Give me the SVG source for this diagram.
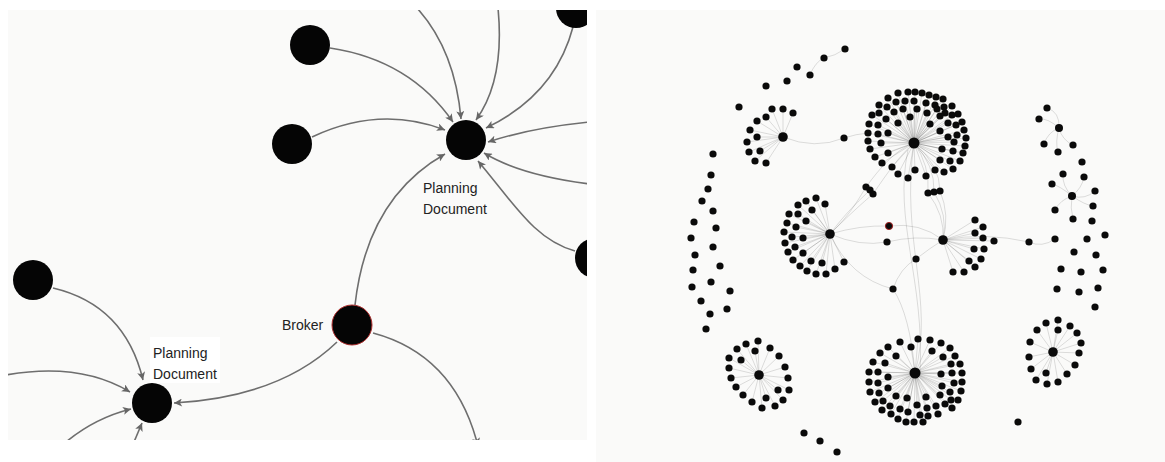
<svg xmlns="http://www.w3.org/2000/svg" width="1165" height="462" viewBox="0 0 1165 462">
<style>
.bg{fill:#fafaf9}
.n{fill:#050505}
.lbl{font-family:"Liberation Sans",Arial,sans-serif;font-size:14px;fill:#222}
.e{fill:none;stroke:#6e6e6e;stroke-width:1.6}
.d circle{r:3.6px}
.d{fill:#0a0a0a}
.h{fill:#0a0a0a}
.fe{fill:none;stroke:#000;stroke-opacity:0.16;stroke-width:0.8}
</style>
<defs>
<marker id="ah" viewBox="0 0 10 10" refX="10" refY="5" markerWidth="9" markerHeight="8" markerUnits="userSpaceOnUse" orient="auto">
<path d="M0,0 L10,5 L0,10 L2.5,5 z" fill="#666"/>
</marker>
<clipPath id="cl"><rect x="8" y="10" width="579" height="430"/></clipPath>
<clipPath id="cr"><rect x="596" y="10" width="569" height="452"/></clipPath>
</defs>
<rect width="1165" height="462" fill="#fff"/>
<rect class="bg" x="8" y="10" width="579" height="430"/>
<rect class="bg" x="596" y="10" width="569" height="452"/>

<g id="left-panel" clip-path="url(#cl)">
<g id="connectors">
<path class="e" marker-end="url(#ah)" d="M330,48 Q410,60 453,122"/>
<path class="e" marker-end="url(#ah)" d="M312,137 Q380,105 445,130"/>
<path class="e" marker-end="url(#ah)" d="M417,8 Q455,50 461,119"/>
<path class="e" marker-end="url(#ah)" d="M498,8 Q505,80 476,120"/>
<path class="e" marker-end="url(#ah)" d="M573,27 Q555,95 486,128"/>
<path class="e" marker-end="url(#ah)" d="M590,122 Q530,128 488,142"/>
<path class="e" marker-end="url(#ah)" d="M590,184 Q520,175 484,153"/>
<path class="e" marker-end="url(#ah)" d="M575,251 C535,240 515,205 478,161"/>
<path class="e" marker-end="url(#ah)" d="M355,305 Q367,198 445,154"/>
<path class="e" marker-end="url(#ah)" d="M53,288 Q125,305 143,380"/>
<path class="e" marker-end="url(#ah)" d="M6,375 Q80,362 130,392"/>
<path class="e" marker-end="url(#ah)" d="M66,442 Q95,418 131,409"/>
<path class="e" marker-end="url(#ah)" d="M134,442 L142,423"/>
<path class="e" marker-end="url(#ah)" d="M337,342 Q280,397 174,403"/>
<path class="e" marker-end="url(#ah)" d="M373,333 Q455,355 478,446"/>
</g>
<g id="node-a"><circle class="n" cx="310" cy="45" r="20"/></g>
<g id="node-b"><circle class="n" cx="292" cy="144" r="20"/></g>
<g id="node-top-right"><circle class="n" cx="576" cy="8" r="20"/></g>
<g id="node-right"><circle class="n" cx="595" cy="258" r="20"/></g>
<g id="node-planning-document-1">
<circle class="n" cx="466" cy="140" r="20"/>
<text class="lbl" x="423" y="193">Planning</text>
<text class="lbl" x="423" y="214">Document</text>
</g>
<g id="node-broker">
<circle class="n" cx="352" cy="325" r="20" stroke="#b03030" stroke-width="1"/>
<text class="lbl" x="282" y="330">Broker</text>
</g>
<g id="node-left"><circle class="n" cx="33" cy="280" r="20"/></g>
<g id="node-planning-document-2">
<rect x="150" y="337" width="70" height="46" fill="#fff"/>
<circle class="n" cx="152" cy="403" r="20"/>
<text class="lbl" x="153" y="358">Planning</text>
<text class="lbl" x="153" y="379">Document</text>
</g>
</g>

<g id="right-panel" clip-path="url(#cr)">
<g id="overview-connectors">
<path class="fe" d="M810,75 Q815,62 824,58 Q835,56 845,49"/>
<path class="fe" d="M783,137 Q815,150 844,138 Q856,134 868,133"/>
<path class="fe" d="M830,234 C850,215 858,200 866,187 M830,234 C848,210 862,198 870,190 M830,234 C852,212 866,200 873,194 M866,187 C880,168 895,150 914,143 M873,194 C888,172 900,155 914,143"/>
<path class="fe" d="M914,143 Q930,165 928,193 M914,143 Q935,165 934,192 M914,143 Q940,165 940,191 M928,193 Q945,215 943,240 M934,192 Q948,215 943,240 M940,191 Q950,215 943,240"/>
<path class="fe" d="M830,234 Q860,247 887,242 Q915,235 943,240 M830,234 Q860,225 889,226 Q920,222 943,240"/>
<path class="fe" d="M830,234 Q850,278 893,289 M893,289 Q900,268 916,259 Q930,248 943,240 M893,289 Q910,315 915,373"/>
<path class="fe" d="M908,150 C893,220 925,280 920,373 M914,143 C900,240 935,300 915,373"/>
<path class="fe" d="M943,240 Q985,232 1029,242 Q1042,248 1055,239"/>
<path class="fe" d="M914,143 L898,93 M914,143 L908,92 M914,143 L915,92 M914,143 L922,93 M914,143 L929,95 M914,143 L936,97 M914,143 L943,99 M914,143 L888,98 M914,143 L896,102 M914,143 L905,101 M914,143 L914,101 M914,143 L926,103 M914,143 L935,105 M914,143 L944,107 M914,143 L952,106 M914,143 L879,105 M914,143 L887,107 M914,143 L903,109 M914,143 L917,109 M914,143 L927,113 M914,143 L937,109 M914,143 L945,113 M914,143 L952,115 M914,143 L958,114 M914,143 L872,115 M914,143 L879,113 M914,143 L894,112 M914,143 L910,117 M914,143 L930,124 M914,143 L940,116 M914,143 L948,123 M914,143 L956,125 M914,143 L962,122 M914,143 L869,124 M914,143 L878,125 M914,143 L886,119 M914,143 L898,123 M914,143 L940,131 M914,143 L964,130 M914,143 L868,133 M914,143 L878,134 M914,143 L888,133 M914,143 L948,137 M914,143 L957,135 M914,143 L966,138 M914,143 L868,141 M914,143 L881,143 M914,143 L954,142 M914,143 L965,146 M914,143 L870,149 M914,143 L888,153 M914,143 L942,149 M914,143 L953,151 M914,143 L963,153 M914,143 L875,157 M914,143 L882,163 M914,143 L940,160 M914,143 L950,161 M914,143 L960,161 M914,143 L892,167 M914,143 L915,170 M914,143 L935,170 M914,143 L944,172 M914,143 L953,169 M914,143 L898,174 M914,143 L908,178 M914,143 L926,176"/>
<path class="fe" d="M783,137 L772,109 M783,137 L783,109 M783,137 L793,113 M783,137 L766,117 M783,137 L757,121 M783,137 L750,130 M783,137 L757,137 M783,137 L747,142 M783,137 L760,151 M783,137 L749,152 M783,137 L755,161 M783,137 L766,163"/>
<path class="fe" d="M830,234 L816,198 M830,234 L806,201 M830,234 L825,204 M830,234 L798,205 M830,234 L812,210 M830,234 L789,214 M830,234 L798,214 M830,234 L806,221 M830,234 L787,223 M830,234 L796,227 M830,234 L784,232 M830,234 L792,237 M830,234 L803,238 M830,234 L785,243 M830,234 L795,247 M830,234 L788,252 M830,234 L803,253 M830,234 L793,260 M830,234 L811,261 M830,234 L822,263 M830,234 L800,266 M830,234 L844,262 M830,234 L835,269 M830,234 L807,271 M830,234 L816,274 M830,234 L826,274"/>
<path class="fe" d="M943,240 L975,220 M943,240 L983,227 M943,240 L975,233 M943,240 L983,238 M943,240 L994,241 M943,240 L974,249 M943,240 L984,249 M943,240 L981,259 M943,240 L969,261 M943,240 L975,267 M943,240 L953,272 M943,240 L964,272"/>
<path class="fe" d="M915,373 L900,342 M915,373 L918,339 M915,373 L930,340 M915,373 L941,343 M915,373 L950,348 M915,373 L888,347 M915,373 L911,347 M915,373 L932,351 M915,373 L880,353 M915,373 L896,356 M915,373 L943,357 M915,373 L955,356 M915,373 L873,362 M915,373 L885,363 M915,373 L951,364 M915,373 L960,364 M915,373 L869,372 M915,373 L878,372 M915,373 L941,374 M915,373 L952,373 M915,373 L962,373 M915,373 L869,382 M915,373 L878,383 M915,373 L888,377 M915,373 L942,386 M915,373 L954,383 M915,373 L962,382 M915,373 L870,392 M915,373 L879,393 M915,373 L888,388 M915,373 L950,392 M915,373 L961,391 M915,373 L896,396 M915,373 L907,398 M915,373 L926,397 M915,373 L940,395 M915,373 L951,400 M915,373 L875,402 M915,373 L883,401 M915,373 L890,406 M915,373 L917,405 M915,373 L927,408 M915,373 L936,406 M915,373 L945,404 M915,373 L882,410 M915,373 L891,414 M915,373 L900,409 M915,373 L908,412 M915,373 L920,415 M915,373 L928,416 M915,373 L938,414 M915,373 L952,408 M915,373 L898,419 M915,373 L906,422 M915,373 L914,422 M915,373 L923,422 M915,373 L958,400"/>
<path class="fe" d="M759,375 L758,341 M759,375 L746,344 M759,375 L770,348 M759,375 L737,349 M759,375 L755,351 M759,375 L779,356 M759,375 L729,358 M759,375 L741,360 M759,375 L785,367 M759,375 L729,368 M759,375 L788,378 M759,375 L731,378 M759,375 L736,387 M759,375 L778,390 M759,375 L789,390 M759,375 L743,395 M759,375 L766,398 M759,375 L783,400 M759,375 L752,402 M759,375 L775,406 M759,375 L762,408"/>
<path class="fe" d="M1053,352 L1058,320 M1053,352 L1046,323 M1053,352 L1070,326 M1053,352 L1037,330 M1053,352 L1058,330 M1053,352 L1077,333 M1053,352 L1030,342 M1053,352 L1081,343 M1053,352 L1029,357 M1053,352 L1079,353 M1053,352 L1075,365 M1053,352 L1031,369 M1053,352 L1046,373 M1053,352 L1067,374 M1053,352 L1036,380 M1053,352 L1058,382 M1053,352 L1047,384"/>
<path class="fe" d="M1059,128 Q1060,112 1047,108 M1059,128 Q1048,118 1039,119 M1059,128 Q1048,132 1044,144 M1059,128 Q1055,142 1058,152 M1059,128 Q1062,140 1073,145"/>
<path class="fe" d="M1072,196 Q1062,186 1063,174 M1072,196 Q1082,188 1084,177 M1072,196 Q1060,186 1052,184 M1072,196 Q1085,200 1095,191 M1072,196 Q1085,205 1093,206 M1072,196 Q1060,200 1055,210 M1072,196 Q1070,208 1073,219"/>
</g>

<g id="cluster-top">
<circle class="h" cx="914" cy="143" r="5.5"/>
<g class="d">
<circle cx="898" cy="93" r="3.3"/><circle cx="908" cy="92" r="3.3"/><circle cx="915" cy="92" r="3.3"/><circle cx="922" cy="93" r="3.3"/><circle cx="929" cy="95" r="3.3"/><circle cx="936" cy="97" r="3.3"/><circle cx="943" cy="99" r="3.3"/>
<circle cx="888" cy="98" r="3.3"/><circle cx="896" cy="102" r="3.3"/><circle cx="905" cy="101" r="3.3"/><circle cx="914" cy="101" r="3.3"/><circle cx="926" cy="103" r="3.3"/><circle cx="935" cy="105" r="3.3"/><circle cx="944" cy="107" r="3.3"/><circle cx="952" cy="106" r="3.3"/>
<circle cx="879" cy="105" r="3.3"/><circle cx="887" cy="107" r="3.3"/><circle cx="903" cy="109" r="3.3"/><circle cx="917" cy="109" r="3.3"/><circle cx="927" cy="113" r="3.3"/><circle cx="937" cy="109" r="3.3"/><circle cx="945" cy="113" r="3.3"/><circle cx="952" cy="115" r="3.3"/><circle cx="958" cy="114" r="3.3"/>
<circle cx="872" cy="115" r="3.3"/><circle cx="879" cy="113" r="3.3"/><circle cx="894" cy="112" r="3.3"/><circle cx="910" cy="117" r="3.3"/><circle cx="930" cy="124" r="3.3"/><circle cx="940" cy="116" r="3.3"/><circle cx="948" cy="123" r="3.3"/><circle cx="956" cy="125" r="3.3"/><circle cx="962" cy="122" r="3.3"/>
<circle cx="869" cy="124" r="3.3"/><circle cx="878" cy="125" r="3.3"/><circle cx="886" cy="119" r="3.3"/><circle cx="898" cy="123" r="3.3"/><circle cx="940" cy="131" r="3.3"/><circle cx="964" cy="130" r="3.3"/>
<circle cx="868" cy="133" r="3.3"/><circle cx="878" cy="134" r="3.3"/><circle cx="888" cy="133" r="3.3"/><circle cx="948" cy="137" r="3.3"/><circle cx="957" cy="135" r="3.3"/><circle cx="966" cy="138" r="3.3"/>
<circle cx="868" cy="141" r="3.3"/><circle cx="881" cy="143" r="3.3"/><circle cx="954" cy="142" r="3.3"/><circle cx="965" cy="146" r="3.3"/>
<circle cx="870" cy="149" r="3.3"/><circle cx="888" cy="153" r="3.3"/><circle cx="942" cy="149" r="3.3"/><circle cx="953" cy="151" r="3.3"/><circle cx="963" cy="153" r="3.3"/>
<circle cx="875" cy="157" r="3.3"/><circle cx="882" cy="163" r="3.3"/><circle cx="940" cy="160" r="3.3"/><circle cx="950" cy="161" r="3.3"/><circle cx="960" cy="161" r="3.3"/>
<circle cx="892" cy="167" r="3.3"/><circle cx="915" cy="170" r="3.3"/><circle cx="935" cy="170" r="3.3"/><circle cx="944" cy="172" r="3.3"/><circle cx="953" cy="169" r="3.3"/>
<circle cx="898" cy="174" r="3.3"/><circle cx="908" cy="178" r="3.3"/><circle cx="926" cy="176" r="3.3"/>
</g>
</g>

<g id="cluster-top-left">
<circle class="h" cx="783" cy="137" r="4.8"/>
<g class="d">
<circle cx="772" cy="109" r="3.3"/><circle cx="783" cy="109" r="3.3"/><circle cx="793" cy="113" r="3.3"/><circle cx="766" cy="117" r="3.3"/><circle cx="757" cy="121" r="3.3"/><circle cx="750" cy="130" r="3.3"/><circle cx="757" cy="137" r="3.3"/><circle cx="747" cy="142" r="3.3"/><circle cx="760" cy="151" r="3.3"/><circle cx="749" cy="152" r="3.3"/><circle cx="755" cy="161" r="3.3"/><circle cx="766" cy="163" r="3.3"/>
<circle cx="844" cy="138" r="3.3"/>
</g>
</g>

<g id="cluster-left">
<circle class="h" cx="830" cy="234" r="4.8"/>
<g class="d">
<circle cx="816" cy="198" r="3.3"/><circle cx="806" cy="201" r="3.3"/><circle cx="825" cy="204" r="3.3"/><circle cx="798" cy="205" r="3.3"/><circle cx="812" cy="210" r="3.3"/><circle cx="789" cy="214" r="3.3"/><circle cx="798" cy="214" r="3.3"/><circle cx="806" cy="221" r="3.3"/><circle cx="787" cy="223" r="3.3"/><circle cx="796" cy="227" r="3.3"/><circle cx="784" cy="232" r="3.3"/><circle cx="792" cy="237" r="3.3"/><circle cx="803" cy="238" r="3.3"/><circle cx="785" cy="243" r="3.3"/><circle cx="795" cy="247" r="3.3"/><circle cx="788" cy="252" r="3.3"/><circle cx="803" cy="253" r="3.3"/><circle cx="793" cy="260" r="3.3"/><circle cx="811" cy="261" r="3.3"/><circle cx="822" cy="263" r="3.3"/><circle cx="800" cy="266" r="3.3"/><circle cx="844" cy="262" r="3.3"/><circle cx="835" cy="269" r="3.3"/><circle cx="807" cy="271" r="3.3"/><circle cx="816" cy="274" r="3.3"/><circle cx="826" cy="274" r="3.3"/>
</g>
</g>

<g id="cluster-mid-right">
<circle class="h" cx="943" cy="240" r="4.8"/>
<g class="d">
<circle cx="975" cy="220" r="3.3"/><circle cx="983" cy="227" r="3.3"/><circle cx="975" cy="233" r="3.3"/><circle cx="983" cy="238" r="3.3"/><circle cx="994" cy="241" r="3.3"/><circle cx="974" cy="249" r="3.3"/><circle cx="984" cy="249" r="3.3"/><circle cx="981" cy="259" r="3.3"/><circle cx="969" cy="261" r="3.3"/><circle cx="975" cy="267" r="3.3"/><circle cx="953" cy="272" r="3.3"/><circle cx="964" cy="272" r="3.3"/>
</g>
</g>

<g id="cluster-bottom">
<circle class="h" cx="915" cy="373" r="5.5"/>
<g class="d">
<circle cx="900" cy="342" r="3.3"/><circle cx="918" cy="339" r="3.3"/><circle cx="930" cy="340" r="3.3"/><circle cx="941" cy="343" r="3.3"/><circle cx="950" cy="348" r="3.3"/><circle cx="888" cy="347" r="3.3"/><circle cx="911" cy="347" r="3.3"/><circle cx="932" cy="351" r="3.3"/><circle cx="880" cy="353" r="3.3"/><circle cx="896" cy="356" r="3.3"/><circle cx="943" cy="357" r="3.3"/><circle cx="955" cy="356" r="3.3"/><circle cx="873" cy="362" r="3.3"/><circle cx="885" cy="363" r="3.3"/><circle cx="951" cy="364" r="3.3"/><circle cx="960" cy="364" r="3.3"/><circle cx="869" cy="372" r="3.3"/><circle cx="878" cy="372" r="3.3"/><circle cx="941" cy="374" r="3.3"/><circle cx="952" cy="373" r="3.3"/><circle cx="962" cy="373" r="3.3"/><circle cx="869" cy="382" r="3.3"/><circle cx="878" cy="383" r="3.3"/><circle cx="888" cy="377" r="3.3"/><circle cx="942" cy="386" r="3.3"/><circle cx="954" cy="383" r="3.3"/><circle cx="962" cy="382" r="3.3"/><circle cx="870" cy="392" r="3.3"/><circle cx="879" cy="393" r="3.3"/><circle cx="888" cy="388" r="3.3"/><circle cx="950" cy="392" r="3.3"/><circle cx="961" cy="391" r="3.3"/><circle cx="896" cy="396" r="3.3"/><circle cx="907" cy="398" r="3.3"/><circle cx="926" cy="397" r="3.3"/><circle cx="940" cy="395" r="3.3"/><circle cx="951" cy="400" r="3.3"/><circle cx="875" cy="402" r="3.3"/><circle cx="883" cy="401" r="3.3"/><circle cx="890" cy="406" r="3.3"/><circle cx="917" cy="405" r="3.3"/><circle cx="927" cy="408" r="3.3"/><circle cx="936" cy="406" r="3.3"/><circle cx="945" cy="404" r="3.3"/><circle cx="882" cy="410" r="3.3"/><circle cx="891" cy="414" r="3.3"/><circle cx="900" cy="409" r="3.3"/><circle cx="908" cy="412" r="3.3"/><circle cx="920" cy="415" r="3.3"/><circle cx="928" cy="416" r="3.3"/><circle cx="938" cy="414" r="3.3"/><circle cx="952" cy="408" r="3.3"/><circle cx="898" cy="419" r="3.3"/><circle cx="906" cy="422" r="3.3"/><circle cx="914" cy="422" r="3.3"/><circle cx="923" cy="422" r="3.3"/><circle cx="958" cy="400" r="3.3"/>
</g>
</g>

<g id="cluster-bottom-left">
<circle class="h" cx="759" cy="375" r="4.8"/>
<g class="d">
<circle cx="758" cy="341" r="3.3"/><circle cx="746" cy="344" r="3.3"/><circle cx="770" cy="348" r="3.3"/><circle cx="737" cy="349" r="3.3"/><circle cx="755" cy="351" r="3.3"/><circle cx="779" cy="356" r="3.3"/><circle cx="729" cy="358" r="3.3"/><circle cx="741" cy="360" r="3.3"/><circle cx="785" cy="367" r="3.3"/><circle cx="729" cy="368" r="3.3"/><circle cx="788" cy="378" r="3.3"/><circle cx="731" cy="378" r="3.3"/><circle cx="736" cy="387" r="3.3"/><circle cx="778" cy="390" r="3.3"/><circle cx="789" cy="390" r="3.3"/><circle cx="743" cy="395" r="3.3"/><circle cx="766" cy="398" r="3.3"/><circle cx="783" cy="400" r="3.3"/><circle cx="752" cy="402" r="3.3"/><circle cx="775" cy="406" r="3.3"/><circle cx="762" cy="408" r="3.3"/>
</g>
</g>

<g id="cluster-bottom-right">
<circle class="h" cx="1053" cy="352" r="4.8"/>
<g class="d">
<circle cx="1058" cy="320" r="3.3"/><circle cx="1046" cy="323" r="3.3"/><circle cx="1070" cy="326" r="3.3"/><circle cx="1037" cy="330" r="3.3"/><circle cx="1058" cy="330" r="3.3"/><circle cx="1077" cy="333" r="3.3"/><circle cx="1030" cy="342" r="3.3"/><circle cx="1081" cy="343" r="3.3"/><circle cx="1029" cy="357" r="3.3"/><circle cx="1079" cy="353" r="3.3"/><circle cx="1075" cy="365" r="3.3"/><circle cx="1031" cy="369" r="3.3"/><circle cx="1046" cy="373" r="3.3"/><circle cx="1067" cy="374" r="3.3"/><circle cx="1036" cy="380" r="3.3"/><circle cx="1058" cy="382" r="3.3"/><circle cx="1047" cy="384" r="3.3"/>
</g>
</g>

<g id="cluster-far-right-1">
<circle class="h" cx="1059" cy="128" r="4"/>
<g class="d"><circle cx="1047" cy="108" r="3.3"/><circle cx="1039" cy="119" r="3.3"/><circle cx="1044" cy="144" r="3.3"/><circle cx="1058" cy="152" r="3.3"/><circle cx="1073" cy="145" r="3.3"/></g>
</g>
<g id="cluster-far-right-2">
<circle class="h" cx="1072" cy="196" r="4"/>
<g class="d"><circle cx="1063" cy="174" r="3.3"/><circle cx="1084" cy="177" r="3.3"/><circle cx="1052" cy="184" r="3.3"/><circle cx="1095" cy="191" r="3.3"/><circle cx="1093" cy="206" r="3.3"/><circle cx="1055" cy="210" r="3.3"/><circle cx="1073" cy="219" r="3.3"/></g>
</g>

<g id="bridges" class="d">
<circle cx="889" cy="226" r="3.3" stroke="#a02020" stroke-width="1"/>
<circle cx="887" cy="242" r="3.3"/><circle cx="916" cy="259" r="3.3"/><circle cx="893" cy="289" r="3.3"/>
<circle cx="866" cy="187" r="3.3"/><circle cx="870" cy="190" r="3.3"/><circle cx="873" cy="194" r="3.3"/>
<circle cx="928" cy="193" r="3.3"/><circle cx="934" cy="192" r="3.3"/><circle cx="940" cy="191" r="3.3"/>
<circle cx="1029" cy="242" r="3.3"/><circle cx="1055" cy="239" r="3.3"/>
<circle cx="810" cy="75" r="3.3"/><circle cx="824" cy="58" r="3.3"/><circle cx="845" cy="49" r="3.3"/>
</g>

<g id="isolated" class="d">
<circle cx="797" cy="67" r="3.3"/><circle cx="787" cy="81" r="3.3"/><circle cx="766" cy="86" r="3.3"/><circle cx="739" cy="107" r="3.3"/>
<circle cx="713" cy="154" r="3.3"/><circle cx="711" cy="175" r="3.3"/><circle cx="708" cy="189" r="3.3"/><circle cx="702" cy="201" r="3.3"/><circle cx="713" cy="211" r="3.3"/><circle cx="694" cy="222" r="3.3"/><circle cx="716" cy="228" r="3.3"/><circle cx="691" cy="238" r="3.3"/><circle cx="713" cy="247" r="3.3"/><circle cx="695" cy="255" r="3.3"/><circle cx="720" cy="266" r="3.3"/><circle cx="693" cy="270" r="3.3"/><circle cx="711" cy="282" r="3.3"/><circle cx="730" cy="291" r="3.3"/><circle cx="692" cy="287" r="3.3"/><circle cx="701" cy="301" r="3.3"/><circle cx="727" cy="309" r="3.3"/><circle cx="710" cy="314" r="3.3"/><circle cx="706" cy="329" r="3.3"/>
<circle cx="1082" cy="162" r="3.3"/><circle cx="1092" cy="221" r="3.3"/>
<circle cx="1087" cy="239" r="3.3"/><circle cx="1105" cy="235" r="3.3"/><circle cx="1074" cy="252" r="3.3"/><circle cx="1096" cy="255" r="3.3"/><circle cx="1061" cy="269" r="3.3"/><circle cx="1081" cy="272" r="3.3"/><circle cx="1103" cy="270" r="3.3"/><circle cx="1057" cy="289" r="3.3"/><circle cx="1079" cy="292" r="3.3"/><circle cx="1098" cy="288" r="3.3"/><circle cx="1095" cy="307" r="3.3"/>
<circle cx="804" cy="433" r="3.3"/><circle cx="820" cy="441" r="3.3"/><circle cx="837" cy="452" r="3.3"/><circle cx="1018" cy="422" r="3.3"/>
</g>
</g>
</svg>
